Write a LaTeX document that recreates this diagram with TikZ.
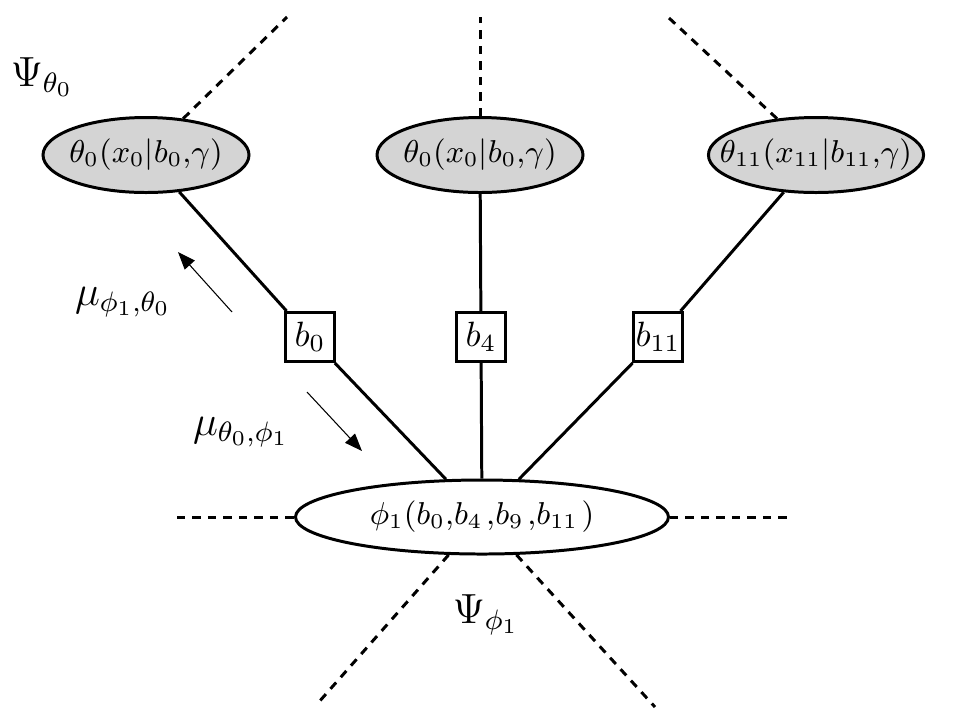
\documentclass[tikz,border=0pt]{standalone}
\usepackage{amssymb}
\usepackage{amsmath}
\usetikzlibrary{shapes.geometric,arrows.meta}

\begin{document}
\begin{tikzpicture}[
    font=\fontsize{9}{11}\selectfont,
    leaf/.style={ellipse, draw, line width=0.85pt, fill=black!17, inner xsep=-2mm, inner ysep=0pt, minimum width=2.06cm, minimum height=0.75cm},
    varbox/.style={draw, line width=0.85pt, inner sep=0pt, minimum size=0.49cm, font=\fontsize{10}{12}\selectfont},
    link/.style={line width=0.85pt},
    open/.style={line width=0.85pt, dash pattern=on 2.4pt off 2pt},
    msg/.style={line width=0.3pt, -{Triangle[length=5pt,width=3.8pt]}}
]
    \useasboundingbox (0,0) rectangle (9.62,7.26);

    \node[leaf] (T0) at (1.46,5.71) {$\theta_0(x_0|b_0{,}\gamma)$};
    \node[leaf] (T4) at (4.80,5.71) {$\theta_0(x_0|b_0{,}\gamma)$};
    \node[leaf] (T11) at (8.16,5.71) {$\theta_{11}(x_{11}|b_{11}{,}\gamma)$};

    \node[varbox] (B0) at (3.10,3.89) {$b_0$};
    \node[varbox] (B4) at (4.81,3.89) {$b_4$};
    \node[varbox] (B11) at (6.58,3.89) {$b_{11}$};

    \node[ellipse, draw, line width=0.85pt, inner xsep=-2mm, inner ysep=0pt, minimum width=3.73cm, minimum height=0.74cm] (F) at (4.82,2.09) {$\phi_1(b_0{,}b_4\mkern2mu{,}b_9\mkern2mu{,}b_{11}\mkern2mu)$};

    \draw[link] (T0) -- (B0) -- (F);
    \draw[link] (T4) -- (B4) -- (F);
    \draw[link] (T11) -- (B11) -- (F);

    % open ends
    \coordinate (D0) at (2.87,7.09);
    \coordinate (D4) at (4.80,7.09);
    \coordinate (D11) at (6.69,7.08);
    \coordinate (DL) at (1.77,2.09);
    \coordinate (DR) at (7.92,2.09);
    \coordinate (DBL) at (3.18,0.23);
    \coordinate (DBR) at (6.55,0.19);
    \draw[open] (T0) -- (D0);
    \draw[open] (T4) -- (D4);
    \draw[open] (T11) -- (D11);
    \draw[open] (DL) -- (F);
    \draw[open] (F) -- (DR);
    \draw[open] (F) -- (DBL);
    \draw[open] (F) -- (DBR);

    \coordinate (U1) at (2.32,4.14);
    \coordinate (U2) at (1.78,4.74);
    \coordinate (V1) at (3.07,3.34);
    \coordinate (V2) at (3.62,2.75);
    \draw[msg] (U1) -- (U2);
    \draw[msg] (V1) -- (V2);

    \node (PsiT) at (0.42,6.49) {\fontsize{12}{14}\selectfont$\Psi_{\theta_0}$};
    \node (PsiF) at (4.86,1.11) {\fontsize{12}{14}\selectfont$\Psi_{\phi_1}$};
    \node (MuU) at (1.23,4.24) {\fontsize{12}{14}\selectfont$\mu_{\phi_1,\theta_0}$};
    \node (MuD) at (2.41,2.94) {\fontsize{12}{14}\selectfont$\mu_{\theta_0,\phi_1}$};
\end{tikzpicture}
\end{document}
